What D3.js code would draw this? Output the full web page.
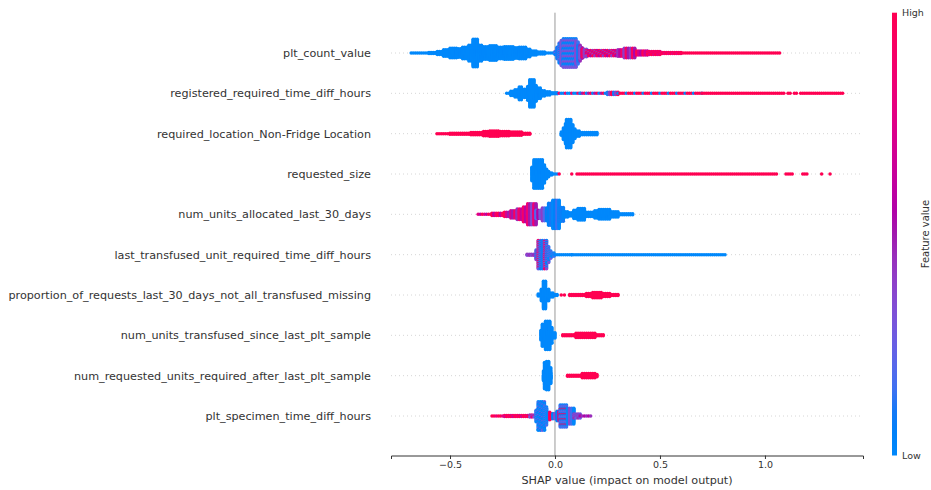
<!DOCTYPE html>
<meta charset="utf-8">
<style>
body { margin: 0; background: #fff; }
text { font-family: "DejaVu Sans", sans-serif; fill: #333; }
.grid { stroke: #ccc; stroke-width: 0.8; stroke-dasharray: 1,3; }
.axis path, .axis line { stroke: #333; }
.axis text { font-size: 9.5px; fill: #333; }
</style>
<body>
<script src="https://d3js.org/d3.v7.min.js"></script>
<script>
var width = 931, height = 490;

var features = [
  "plt_count_value",
  "registered_required_time_diff_hours",
  "required_location_Non-Fridge Location",
  "requested_size",
  "num_units_allocated_last_30_days",
  "last_transfused_unit_required_time_diff_hours",
  "proportion_of_requests_last_30_days_not_all_transfused_missing",
  "num_units_transfused_since_last_plt_sample",
  "num_requested_units_required_after_last_plt_sample",
  "plt_specimen_time_diff_hours"
];

var xTicks = [-0.5, 0, 0.5, 1.0];

// each run: [shap from, shap to, points stacked per column, feature value (0 low .. 1 high, or a mix)]
var pltCountValue = [
  [-0.685, -0.60, 1, 0], [-0.60, -0.56, 2, 0], [-0.56, -0.53, 4, 0], [-0.53, -0.50, 7, 0],
  [-0.50, -0.47, 10, 0], [-0.47, -0.44, 9, 0], [-0.44, -0.41, 12, 0], [-0.41, -0.39, 16, 0],
  [-0.39, -0.37, 27, 0], [-0.37, -0.35, 16, 0], [-0.35, -0.31, 13, 0], [-0.31, -0.28, 15, 0],
  [-0.28, -0.24, 12, 0], [-0.24, -0.20, 13, 0], [-0.20, -0.17, 11, 0], [-0.17, -0.14, 12, 0],
  [-0.14, -0.12, 8, 0], [-0.12, -0.09, 5, 0], [-0.09, -0.05, 3, 0], [-0.05, 0.0, 1, 0],
  [0.0, 0.01, 4, [0.05, 0.25]], [0.01, 0.02, 12, [0, 0.25, 0.1]], [0.02, 0.03, 20, [0.05, 0.3, 0, 0.15]],
  [0.03, 0.04, 25, [0, 0.3, 0.1]], [0.04, 0.10, 28, [0.05, 0.3, 0, 0.15, 0.35]],
  [0.10, 0.11, 22, [0.15, 0.35, 0.05]], [0.11, 0.12, 16, [0.25, 0.45, 0.1]], [0.12, 0.13, 11, [0.3, 0.7, 0.5]],
  [0.13, 0.15, 8, [0.4, 0.9, 0.3]], [0.15, 0.30, 6, [0.4, 0.95, 0.55, 1]], [0.30, 0.33, 7, [0.45, 0.9, 0.6]],
  [0.33, 0.38, 10, [0.5, 0.95, 0.4]], [0.38, 0.44, 5, [0.7, 1, 0.55]], [0.44, 0.50, 4, [0.8, 1]],
  [0.50, 0.60, 2, [0.85, 1]], [0.60, 1.04, 1, 1], [1.05, 1.07, 1, 1]
];

var registeredRequired = [
  [-0.23, -0.21, 1, 0], [-0.21, -0.19, 5, 0], [-0.19, -0.17, 8, 0], [-0.17, -0.155, 13, 0],
  [-0.155, -0.13, 9, 0], [-0.13, -0.12, 14, 0], [-0.12, -0.10, 27, 0], [-0.10, -0.09, 16, 0],
  [-0.09, -0.07, 11, 0], [-0.07, -0.045, 6, 0], [-0.045, -0.02, 4, 0], [-0.02, 0.01, 2, 0],
  [0.01, 0.12, 1, [0, 0, 0.9]], [0.12, 0.25, 1, [0, 1, 0.5]], [0.25, 0.30, 3, [0.4, 0.1, 1]],
  [0.30, 0.70, 1, [1, 1, 0, 1]], [0.70, 1.09, 1, 1], [1.11, 1.12, 1, 1], [1.14, 1.15, 1, 1],
  [1.17, 1.37, 1, 1]
];

var requiredLocation = [
  [-0.562, -0.50, 1, 1], [-0.50, -0.40, 2, 1], [-0.40, -0.34, 3, 1], [-0.34, -0.31, 5, 1],
  [-0.31, -0.27, 6, 1], [-0.27, -0.22, 5, 1], [-0.22, -0.16, 4, 1], [-0.16, -0.115, 2, 1],
  [0.03, 0.04, 4, 0], [0.04, 0.05, 12, 0], [0.05, 0.055, 20, 0], [0.055, 0.075, 28, 0],
  [0.075, 0.085, 18, 0], [0.085, 0.095, 10, 0], [0.095, 0.12, 6, 0], [0.12, 0.20, 3, 0]
];

var requestedSize = [
  [-0.11, -0.10, 14, 0], [-0.10, -0.06, 28, 0], [-0.06, -0.05, 18, 0], [-0.05, -0.04, 10, 0],
  [-0.04, -0.025, 6, 0], [-0.025, -0.01, 3, 0], [-0.01, 0.01, 1, 0],
  [0.02, 0.025, 1, 1], [0.08, 0.085, 1, 1], [0.105, 1.06, 1, 1], [1.10, 1.13, 1, 1],
  [1.18, 1.20, 1, 1], [1.27, 1.27, 1, 1], [1.31, 1.31, 1, 1]
];

var unitsAllocated = [
  [-0.366, -0.30, 1, [0.8, 1, 0.6]], [-0.30, -0.24, 3, [0.9, 0.6, 1]], [-0.24, -0.21, 5, [0.7, 1, 0.5]],
  [-0.21, -0.18, 8, [0.7, 0.95, 0.5]], [-0.18, -0.15, 11, [0.65, 0.9, 0.45]], [-0.15, -0.13, 15, [0.6, 0.9, 0.4]],
  [-0.13, -0.09, 21, [0.5, 0.85, 0.35]], [-0.09, -0.06, 9, [0.3, 0.55, 0.2]], [-0.06, -0.03, 13, [0.2, 0.4, 0.05]],
  [-0.03, -0.01, 22, [0.05, 0.2, 0.1]], [-0.01, 0.02, 28, [0, 0.15, 0.05]], [0.02, 0.04, 14, [0, 0.1]],
  [0.04, 0.06, 6, 0], [0.06, 0.09, 4, 0], [0.09, 0.11, 9, 0], [0.11, 0.14, 12, 0], [0.14, 0.19, 5, 0],
  [0.19, 0.21, 8, 0], [0.21, 0.26, 10, 0], [0.26, 0.30, 6, 0], [0.30, 0.37, 2, 0]
];

var lastTransfused = [
  [-0.133, -0.09, 2, [0.35, 0.45]], [-0.09, -0.08, 10, [0.1, 0.4]], [-0.08, -0.04, 28, [0.05, 0.25, 0, 0.35, 0.9, 0.1]],
  [-0.04, -0.03, 16, [0.05, 0.3]], [-0.03, -0.015, 8, [0, 0.25]], [-0.015, 0.0, 4, [0, 0.15]],
  [0.0, 0.08, 1, [0, 1, 0, 0.9, 0]], [0.08, 0.815, 1, 0]
];

var proportionRequests = [
  [-0.08, -0.065, 3, 0], [-0.065, -0.055, 12, 0], [-0.055, -0.04, 27, 0], [-0.04, -0.03, 12, 0],
  [-0.03, -0.01, 5, 0], [-0.01, 0.01, 2, 0],
  [0.03, 0.035, 1, 1], [0.045, 0.05, 1, 1], [0.07, 0.15, 2, 1], [0.15, 0.18, 4, 1],
  [0.18, 0.22, 6, 1], [0.22, 0.26, 4, 1], [0.26, 0.30, 2, 1]
];

var unitsTransfused = [
  [-0.067, -0.06, 10, 0], [-0.06, -0.045, 22, 0], [-0.045, -0.025, 28, 0], [-0.025, -0.01, 16, 0],
  [-0.01, 0.0, 6, 0],
  [0.037, 0.10, 2, 1], [0.10, 0.19, 5, 1], [0.19, 0.23, 2, 1]
];

var requestedUnits = [
  [-0.055, -0.05, 10, 0], [-0.05, -0.04, 26, 0], [-0.04, -0.03, 28, 0], [-0.03, -0.02, 16, 0],
  [-0.02, -0.012, 6, 0],
  [0.06, 0.13, 2, 1], [0.13, 0.19, 5, 1], [0.19, 0.20, 3, 1]
];

var specimenTime = [
  [-0.30, -0.24, 1, [1, 1, 0.8]], [-0.24, -0.12, 2, [1, 0.9, 1, 0.7]], [-0.12, -0.09, 3, [0.8, 0.3]],
  [-0.09, -0.08, 12, [0, 0.2]], [-0.08, -0.05, 28, [0, 0.05, 0.25, 0]], [-0.05, -0.035, 18, [0, 0.15]],
  [-0.035, -0.02, 8, [0.25, 0.9, 0]], [-0.02, 0.01, 6, [1, 0.35, 0.05]], [0.01, 0.025, 10, [0.15, 0.8, 0.05]],
  [0.025, 0.06, 22, [0.05, 0.25, 0.9, 0.15, 0]], [0.06, 0.09, 16, [0.15, 0.35, 0]], [0.09, 0.12, 5, [0.25, 0.45]],
  [0.12, 0.17, 1, [0.45, 0.55]]
];

var rows = [pltCountValue, registeredRequired, requiredLocation, requestedSize, unitsAllocated,
            lastTransfused, proportionRequests, unitsTransfused, requestedUnits, specimenTime];

var svg = d3.select("body").append("svg")
  .attr("width", width)
  .attr("height", height);

var x = d3.scaleLinear().domain([-0.781, 1.467]).range([391, 863]);
var y = d3.scalePoint().domain(features).range([53, 416]);
var yTop = 12.7, yBottom = 455.5;

// blue -> dark magenta -> red, walked in LCh like shap's red_blue map
function redBlue(t) {
  var l = t < 0.5 ? 54 - 28 * t : 40 + 28 * (t - 0.5);
  return d3.hcl(267 + 113.3 * t, 70 + 20 * t, l).formatRgb();
}
var color = d3.scaleSequential(redBlue).domain([0, 1]);

// dotted row guides
svg.append("g").selectAll("line")
  .data(features)
  .enter().append("line")
  .attr("class", "grid")
  .attr("x1", x.range()[0]).attr("x2", x.range()[1])
  .attr("y1", function(d) { return y(d); })
  .attr("y2", function(d) { return y(d); });

svg.append("line")
  .attr("x1", x(0)).attr("x2", x(0))
  .attr("y1", yTop).attr("y2", yBottom)
  .attr("stroke", "#999").attr("stroke-width", 1);

// build dots: each run -> columns every 0.01 -> points stacked around the row
var dots = [];
var col = 0;
rows.forEach(function(runs, ri) {
  runs.forEach(function(r) {
    var xs = r[1] > r[0] ? d3.range(r[0], r[1] + 1e-9, 0.01) : [r[0]];
    var cs = Array.isArray(r[3]) ? r[3] : [r[3]];
    xs.forEach(function(v) {
      col++;
      for (var j = 0; j < r[2]; j++) {
        dots.push({
          row: features[ri],
          v: v,
          off: (j - (r[2] - 1) / 2) * 1.05,
          c: cs[(col * 5 + j * 3) % cs.length]
        });
      }
    });
  });
});

svg.append("g").selectAll("circle")
  .data(dots)
  .enter().append("circle")
  .attr("cx", function(d) { return x(d.v); })
  .attr("cy", function(d) { return y(d.row) + d.off; })
  .attr("r", 1.75)
  .attr("fill", function(d) { return color(d.c); });

// feature names
svg.append("g").selectAll("text")
  .data(features)
  .enter().append("text")
  .attr("x", 371)
  .attr("y", function(d) { return y(d); })
  .attr("dy", "0.35em")
  .attr("text-anchor", "end")
  .style("font-size", "11.2px")
  .text(function(d) { return d; });

var xAxis = svg.append("g")
  .attr("class", "axis")
  .attr("transform", "translate(0," + yBottom + ")")
  .call(d3.axisBottom(x).tickValues(xTicks).tickFormat(d3.format(".1f")).tickSizeOuter(0).tickSize(3.5).tickPadding(2.5));
xAxis.select(".domain").attr("stroke-width", 1);

svg.append("text")
  .attr("x", (x.range()[0] + x.range()[1]) / 2)
  .attr("y", 484)
  .attr("text-anchor", "middle")
  .style("font-size", "11.2px")
  .text("SHAP value (impact on model output)");

// colour bar
var defs = svg.append("defs");
var grad = defs.append("linearGradient")
  .attr("id", "fv").attr("x1", 0).attr("x2", 0).attr("y1", 1).attr("y2", 0);
grad.selectAll("stop")
  .data(d3.range(0, 1.0001, 0.05))
  .enter().append("stop")
  .attr("offset", function(d) { return d; })
  .attr("stop-color", function(d) { return color(d); });

svg.append("rect")
  .attr("x", 892).attr("y", yTop)
  .attr("width", 5).attr("height", yBottom - yTop)
  .attr("fill", "url(#fv)");

svg.append("text").attr("x", 902).attr("y", yTop).attr("dy", "0.35em")
  .style("font-size", "9.5px").text("High");
svg.append("text").attr("x", 902).attr("y", yBottom).attr("dy", "0.35em")
  .style("font-size", "9.5px").text("Low");
svg.append("text")
  .attr("transform", "translate(925," + (yTop + yBottom) / 2 + ") rotate(-90)")
  .attr("text-anchor", "middle")
  .attr("dy", "0.35em")
  .style("font-size", "10px")
  .text("Feature value");
</script>
</body>
